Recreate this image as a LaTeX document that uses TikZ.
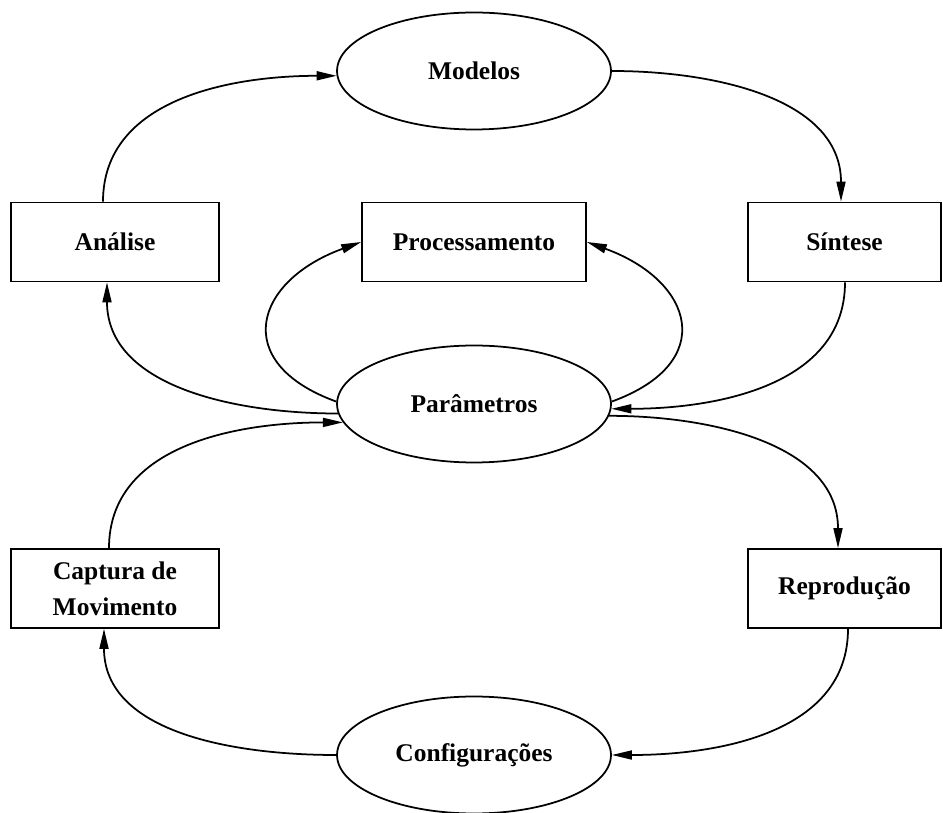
\documentclass[tikz,border=0pt]{standalone}
\usepackage{fontspec}
\setmainfont{Liberation Serif}
\usetikzlibrary{arrows.meta,shapes.geometric}

\begin{document}
\begin{tikzpicture}[x=0.02cm,y=-0.02cm,line width=1pt]
    % animation cycle
    \tikzset{state/.style = {shape=ellipse,draw,minimum width=5.48cm,minimum height=2.34cm,inner sep=0pt}}
    \tikzset{stage/.style = {shape=rectangle,draw,minimum height=1.58cm,align=center}}
    \tikzset{flow/.style = {-{Triangle[length=0.4cm,width=0.18cm]}}}
    \tikzset{every node/.style = {font=\fontsize{14.5}{20.5}\selectfont\bfseries}}

    \useasboundingbox (0,0) rectangle (943,813);

    % states
    \node[state] (mod) at (474,71)  {Modelos};
    \node[state] (par) at (474,404) {Parâmetros};
    \node[state] (cfg) at (474,755) {Configurações};

    % stages
    \node[stage,minimum width=4.16cm] (ana)  at (115,242)   {Análise};
    \node[stage,minimum width=4.48cm] (proc) at (474,242)   {Processamento};
    \node[stage,minimum width=3.86cm] (sin)  at (844.5,242) {Síntese};
    \node[stage,minimum width=4.16cm] (cap)  at (115,588.5) {Captura de\\Movimento};
    \node[stage,minimum width=3.86cm] (rep)  at (844.5,588.5) {Reprodução};

    % upper loop
    \draw[flow] ([xshift=-0.24cm]ana.north) to[out=90,in=180] (mod.182);
    \draw[flow] (mod.east) to[out=0,in=90] ([xshift=-0.07cm]sin.north);
    \draw[flow] ([xshift=0.01cm]sin.south) to[out=270,in=0] (par.358);
    \draw[flow] (par.184) to[out=180,in=270] ([xshift=-0.16cm]ana.south);

    % processing
    \draw[flow] (par.179) to[out=160,in=200,looseness=1.8] (proc.west);
    \draw[flow] (par.1) to[out=20,in=-20,looseness=1.8] (proc.east);

    % lower loop
    \draw[flow] (par.355) to[out=0,in=90] ([xshift=-0.13cm]rep.north);
    \draw[flow] ([xshift=0.07cm]rep.south) to[out=270,in=0] (cfg.east);
    \draw[flow] (cfg.west) to[out=180,in=270] ([xshift=-0.22cm]cap.south);
    \draw[flow] ([xshift=-0.12cm]cap.north) to[out=90,in=180] (par.188);
\end{tikzpicture}
\end{document}
